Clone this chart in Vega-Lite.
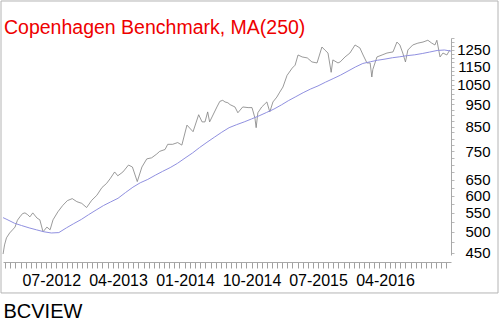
{
  "$schema": "https://vega.github.io/schema/vega-lite/v6.json",
  "autosize": {"type": "none"},
  "width": 448,
  "height": 217,
  "padding": {"left": 3, "top": 38, "right": 51, "bottom": 70},
  "background": "white",
  "config": {
    "view": {"stroke": null}
  },
  "title": {
    "text": "Copenhagen Benchmark, MA(250)",
    "anchor": "start",
    "frame": "group",
    "offset": -53.5,
    "baseline": "alphabetic",
    "dx": 1,
    "color": "#ee0000",
    "font": "Liberation Sans",
    "fontSize": 19.5,
    "fontWeight": "normal"
  },
  "datasets": {
    "price": [
      {"date": "2011-12-16", "close": 447},
      {"date": "2011-12-22", "close": 468},
      {"date": "2011-12-30", "close": 485},
      {"date": "2012-01-12", "close": 497},
      {"date": "2012-01-24", "close": 505},
      {"date": "2012-02-03", "close": 512},
      {"date": "2012-02-13", "close": 530},
      {"date": "2012-02-23", "close": 539},
      {"date": "2012-03-05", "close": 548},
      {"date": "2012-03-15", "close": 550},
      {"date": "2012-03-26", "close": 545},
      {"date": "2012-04-04", "close": 539},
      {"date": "2012-04-16", "close": 550},
      {"date": "2012-05-03", "close": 536},
      {"date": "2012-05-15", "close": 531},
      {"date": "2012-05-28", "close": 500},
      {"date": "2012-06-13", "close": 512},
      {"date": "2012-06-26", "close": 505},
      {"date": "2012-07-08", "close": 531},
      {"date": "2012-07-28", "close": 553},
      {"date": "2012-08-17", "close": 571},
      {"date": "2012-09-05", "close": 585},
      {"date": "2012-09-25", "close": 591},
      {"date": "2012-10-14", "close": 582},
      {"date": "2012-11-03", "close": 577},
      {"date": "2012-11-23", "close": 565},
      {"date": "2012-12-14", "close": 586},
      {"date": "2013-01-04", "close": 601},
      {"date": "2013-01-25", "close": 625},
      {"date": "2013-02-13", "close": 638},
      {"date": "2013-03-01", "close": 655},
      {"date": "2013-03-18", "close": 676},
      {"date": "2013-03-31", "close": 663},
      {"date": "2013-04-21", "close": 676},
      {"date": "2013-05-14", "close": 700},
      {"date": "2013-05-30", "close": 693},
      {"date": "2013-06-19", "close": 644},
      {"date": "2013-07-08", "close": 693},
      {"date": "2013-07-28", "close": 722},
      {"date": "2013-08-17", "close": 726},
      {"date": "2013-09-07", "close": 740},
      {"date": "2013-09-19", "close": 750},
      {"date": "2013-10-11", "close": 757},
      {"date": "2013-10-22", "close": 777},
      {"date": "2013-11-11", "close": 777},
      {"date": "2013-12-02", "close": 784},
      {"date": "2013-12-19", "close": 774},
      {"date": "2014-01-09", "close": 856},
      {"date": "2014-02-03", "close": 828},
      {"date": "2014-02-26", "close": 902},
      {"date": "2014-03-12", "close": 870},
      {"date": "2014-03-24", "close": 870},
      {"date": "2014-04-04", "close": 915},
      {"date": "2014-04-12", "close": 870},
      {"date": "2014-05-12", "close": 938},
      {"date": "2014-05-24", "close": 965},
      {"date": "2014-06-05", "close": 970},
      {"date": "2014-06-14", "close": 962},
      {"date": "2014-06-26", "close": 958},
      {"date": "2014-07-05", "close": 949},
      {"date": "2014-07-25", "close": 938},
      {"date": "2014-08-06", "close": 911},
      {"date": "2014-08-26", "close": 938},
      {"date": "2014-09-17", "close": 935},
      {"date": "2014-10-03", "close": 935},
      {"date": "2014-10-15", "close": 887},
      {"date": "2014-10-20", "close": 845},
      {"date": "2014-10-27", "close": 911},
      {"date": "2014-11-12", "close": 938},
      {"date": "2014-12-03", "close": 962},
      {"date": "2014-12-15", "close": 915},
      {"date": "2014-12-28", "close": 962},
      {"date": "2015-01-13", "close": 986},
      {"date": "2015-01-25", "close": 1011},
      {"date": "2015-02-07", "close": 1037},
      {"date": "2015-02-24", "close": 1100},
      {"date": "2015-03-17", "close": 1141},
      {"date": "2015-03-29", "close": 1158},
      {"date": "2015-04-10", "close": 1219},
      {"date": "2015-04-27", "close": 1207},
      {"date": "2015-05-18", "close": 1201},
      {"date": "2015-06-06", "close": 1177},
      {"date": "2015-06-27", "close": 1171},
      {"date": "2015-07-17", "close": 1269},
      {"date": "2015-07-29", "close": 1250},
      {"date": "2015-08-11", "close": 1231},
      {"date": "2015-08-24", "close": 1117},
      {"date": "2015-08-31", "close": 1189},
      {"date": "2015-09-21", "close": 1171},
      {"date": "2015-09-30", "close": 1177},
      {"date": "2015-10-20", "close": 1207},
      {"date": "2015-11-09", "close": 1231},
      {"date": "2015-11-30", "close": 1282},
      {"date": "2015-12-20", "close": 1263},
      {"date": "2016-01-02", "close": 1219},
      {"date": "2016-01-18", "close": 1171},
      {"date": "2016-01-31", "close": 1171},
      {"date": "2016-02-07", "close": 1091},
      {"date": "2016-02-11", "close": 1133},
      {"date": "2016-02-28", "close": 1207},
      {"date": "2016-03-20", "close": 1219},
      {"date": "2016-04-09", "close": 1231},
      {"date": "2016-05-04", "close": 1238},
      {"date": "2016-05-20", "close": 1301},
      {"date": "2016-06-01", "close": 1282},
      {"date": "2016-06-13", "close": 1231},
      {"date": "2016-06-24", "close": 1177},
      {"date": "2016-07-04", "close": 1250},
      {"date": "2016-07-24", "close": 1282},
      {"date": "2016-08-14", "close": 1294},
      {"date": "2016-09-04", "close": 1301},
      {"date": "2016-09-24", "close": 1313},
      {"date": "2016-10-10", "close": 1294},
      {"date": "2016-10-23", "close": 1282},
      {"date": "2016-10-31", "close": 1313},
      {"date": "2016-11-13", "close": 1207},
      {"date": "2016-11-25", "close": 1231},
      {"date": "2016-12-11", "close": 1219},
      {"date": "2016-12-23", "close": 1250}
    ],
    "ma": [
      {"date": "2011-12-16", "ma": 537},
      {"date": "2012-01-01", "ma": 532},
      {"date": "2012-02-01", "ma": 522},
      {"date": "2012-03-01", "ma": 516},
      {"date": "2012-04-01", "ma": 510},
      {"date": "2012-05-01", "ma": 505},
      {"date": "2012-06-01", "ma": 500},
      {"date": "2012-07-01", "ma": 497},
      {"date": "2012-08-01", "ma": 498},
      {"date": "2012-09-01", "ma": 510},
      {"date": "2012-10-01", "ma": 521},
      {"date": "2012-11-01", "ma": 532},
      {"date": "2012-12-01", "ma": 545},
      {"date": "2013-01-01", "ma": 558},
      {"date": "2013-02-01", "ma": 571},
      {"date": "2013-03-01", "ma": 581},
      {"date": "2013-04-01", "ma": 592},
      {"date": "2013-05-01", "ma": 609},
      {"date": "2013-06-01", "ma": 626},
      {"date": "2013-07-01", "ma": 640},
      {"date": "2013-08-01", "ma": 651},
      {"date": "2013-09-01", "ma": 665},
      {"date": "2013-10-01", "ma": 678},
      {"date": "2013-11-01", "ma": 691},
      {"date": "2013-12-01", "ma": 706},
      {"date": "2014-01-01", "ma": 725},
      {"date": "2014-02-01", "ma": 744},
      {"date": "2014-03-01", "ma": 764},
      {"date": "2014-04-01", "ma": 785},
      {"date": "2014-05-01", "ma": 805},
      {"date": "2014-06-01", "ma": 826},
      {"date": "2014-07-01", "ma": 845},
      {"date": "2014-08-01", "ma": 858},
      {"date": "2014-09-01", "ma": 870},
      {"date": "2014-10-01", "ma": 883},
      {"date": "2014-11-01", "ma": 897},
      {"date": "2014-12-01", "ma": 912},
      {"date": "2015-01-01", "ma": 928},
      {"date": "2015-02-01", "ma": 948},
      {"date": "2015-03-01", "ma": 968},
      {"date": "2015-04-01", "ma": 988},
      {"date": "2015-05-01", "ma": 1008},
      {"date": "2015-06-01", "ma": 1027},
      {"date": "2015-07-01", "ma": 1043},
      {"date": "2015-08-01", "ma": 1063},
      {"date": "2015-09-01", "ma": 1082},
      {"date": "2015-10-01", "ma": 1101},
      {"date": "2015-11-01", "ma": 1124},
      {"date": "2015-12-01", "ma": 1147},
      {"date": "2016-01-01", "ma": 1168},
      {"date": "2016-02-01", "ma": 1178},
      {"date": "2016-03-01", "ma": 1187},
      {"date": "2016-04-01", "ma": 1194},
      {"date": "2016-05-01", "ma": 1202},
      {"date": "2016-06-01", "ma": 1208},
      {"date": "2016-07-01", "ma": 1215},
      {"date": "2016-08-01", "ma": 1220},
      {"date": "2016-09-01", "ma": 1228},
      {"date": "2016-10-01", "ma": 1237},
      {"date": "2016-11-01", "ma": 1247},
      {"date": "2016-12-01", "ma": 1250},
      {"date": "2016-12-28", "ma": 1243}
    ]
  },
  "layer": [
    {
      "data": {"name": "price"},
      "mark": {"type": "line", "color": "#808080", "strokeWidth": 0.8},
      "encoding": {
        "x": {
          "field": "date",
          "type": "temporal",
          "scale": {
            "domain": [{"year": 2011, "month": 12, "date": 15, "hours": 17}, {"year": 2016, "month": 12, "date": 28}],
            "nice": false
          },
          "axis": {
            "orient": "bottom",
            "offset": 7,
            "domainColor": "#a8a8a8",
            "grid": false,
            "tickCount": 1000,
            "tickSize": 6,
            "tickColor": "#a0a0a0",
            "labelPadding": 4,
            "labelFont": "Liberation Sans",
            "labelFontSize": 16,
            "labelColor": "#000000",
            "labelOverlap": false,
            "labelSeparation": -1000,
            "labelExpr": "date(datum.value) == 1 ? timeFormat(datum.value, '%m-%Y') : ''",
            "values": [
              {"year": 2011, "month": 12, "date": 25},
              {"year": 2012, "month": 1, "date": 15},
              {"year": 2012, "month": 2, "date": 5},
              {"year": 2012, "month": 2, "date": 26},
              {"year": 2012, "month": 3, "date": 18},
              {"year": 2012, "month": 4, "date": 8},
              {"year": 2012, "month": 4, "date": 29},
              {"year": 2012, "month": 5, "date": 20},
              {"year": 2012, "month": 6, "date": 10},
              {"year": 2012, "month": 7, "date": 1},
              {"year": 2012, "month": 7, "date": 22},
              {"year": 2012, "month": 8, "date": 12},
              {"year": 2012, "month": 9, "date": 2},
              {"year": 2012, "month": 9, "date": 23},
              {"year": 2012, "month": 10, "date": 14},
              {"year": 2012, "month": 11, "date": 4},
              {"year": 2012, "month": 11, "date": 25},
              {"year": 2012, "month": 12, "date": 16},
              {"year": 2013, "month": 1, "date": 6},
              {"year": 2013, "month": 1, "date": 27},
              {"year": 2013, "month": 2, "date": 17},
              {"year": 2013, "month": 3, "date": 10},
              {"year": 2013, "month": 4, "date": 1},
              {"year": 2013, "month": 4, "date": 22},
              {"year": 2013, "month": 5, "date": 13},
              {"year": 2013, "month": 6, "date": 3},
              {"year": 2013, "month": 6, "date": 24},
              {"year": 2013, "month": 7, "date": 15},
              {"year": 2013, "month": 8, "date": 5},
              {"year": 2013, "month": 8, "date": 26},
              {"year": 2013, "month": 9, "date": 16},
              {"year": 2013, "month": 10, "date": 7},
              {"year": 2013, "month": 10, "date": 28},
              {"year": 2013, "month": 11, "date": 18},
              {"year": 2013, "month": 12, "date": 9},
              {"year": 2014, "month": 1, "date": 1},
              {"year": 2014, "month": 1, "date": 22},
              {"year": 2014, "month": 2, "date": 12},
              {"year": 2014, "month": 3, "date": 5},
              {"year": 2014, "month": 3, "date": 26},
              {"year": 2014, "month": 4, "date": 16},
              {"year": 2014, "month": 5, "date": 7},
              {"year": 2014, "month": 5, "date": 28},
              {"year": 2014, "month": 6, "date": 18},
              {"year": 2014, "month": 7, "date": 9},
              {"year": 2014, "month": 7, "date": 30},
              {"year": 2014, "month": 8, "date": 20},
              {"year": 2014, "month": 9, "date": 10},
              {"year": 2014, "month": 10, "date": 1},
              {"year": 2014, "month": 10, "date": 22},
              {"year": 2014, "month": 11, "date": 12},
              {"year": 2014, "month": 12, "date": 3},
              {"year": 2014, "month": 12, "date": 24},
              {"year": 2015, "month": 1, "date": 14},
              {"year": 2015, "month": 2, "date": 4},
              {"year": 2015, "month": 2, "date": 25},
              {"year": 2015, "month": 3, "date": 18},
              {"year": 2015, "month": 4, "date": 8},
              {"year": 2015, "month": 4, "date": 29},
              {"year": 2015, "month": 5, "date": 20},
              {"year": 2015, "month": 6, "date": 10},
              {"year": 2015, "month": 7, "date": 1},
              {"year": 2015, "month": 7, "date": 22},
              {"year": 2015, "month": 8, "date": 12},
              {"year": 2015, "month": 9, "date": 2},
              {"year": 2015, "month": 9, "date": 23},
              {"year": 2015, "month": 10, "date": 14},
              {"year": 2015, "month": 11, "date": 4},
              {"year": 2015, "month": 11, "date": 25},
              {"year": 2015, "month": 12, "date": 16},
              {"year": 2016, "month": 1, "date": 6},
              {"year": 2016, "month": 1, "date": 27},
              {"year": 2016, "month": 2, "date": 17},
              {"year": 2016, "month": 3, "date": 9},
              {"year": 2016, "month": 4, "date": 1},
              {"year": 2016, "month": 4, "date": 22},
              {"year": 2016, "month": 5, "date": 13},
              {"year": 2016, "month": 6, "date": 3},
              {"year": 2016, "month": 6, "date": 24},
              {"year": 2016, "month": 7, "date": 15},
              {"year": 2016, "month": 8, "date": 5},
              {"year": 2016, "month": 8, "date": 26},
              {"year": 2016, "month": 9, "date": 16},
              {"year": 2016, "month": 10, "date": 7},
              {"year": 2016, "month": 10, "date": 28},
              {"year": 2016, "month": 11, "date": 18},
              {"year": 2016, "month": 12, "date": 9}
            ],
            "title": "BCVIEW",
            "titleX": 0,
            "titleY": 55,
            "titleAlign": "left",
            "titleAnchor": "start",
            "titleBaseline": "alphabetic",
            "titleFont": "Liberation Sans",
            "titleFontSize": 20,
            "titleFontWeight": "normal",
            "titleColor": "#000000"
          }
        },
        "y": {
          "field": "close",
          "type": "quantitative",
          "scale": {"type": "log", "domain": [444.8, 1327.9], "nice": false, "zero": false},
          "axis": {
            "orient": "right",
            "domainColor": "#a8a8a8",
            "grid": false,
            "title": null,
            "tickCount": 1000,
            "tickSize": 3,
            "tickColor": "#b8b8b8",
            "labelAlign": "right",
            "labelPadding": 36,
            "labelFont": "Liberation Sans",
            "labelFontSize": 15,
            "labelColor": "#000000",
            "labelOverlap": false,
            "labelSeparation": -1000,
            "values": [450, 475, 500, 525, 550, 575, 600, 625, 650, 675, 700, 725, 750, 775, 800, 825, 850, 875, 900, 925, 950, 975, 1000, 1025, 1050, 1075, 1100, 1125, 1150, 1175, 1200, 1225, 1250, 1275, 1300, 1325],
            "labelExpr": "indexof([450, 500, 550, 600, 650, 750, 850, 950, 1050, 1150, 1250], datum.value) >= 0 ? format(datum.value, 'd') : ''"
          }
        }
      }
    },
    {
      "data": {"name": "ma"},
      "mark": {"type": "line", "color": "#9090e0", "strokeWidth": 1},
      "encoding": {
        "x": {"field": "date", "type": "temporal"},
        "y": {"field": "ma", "type": "quantitative"}
      }
    },
    {
      "data": {"values": [{}]},
      "mark": {"type": "rect", "fill": "transparent", "stroke": "#b4b4b4", "strokeWidth": 1, "clip": false},
      "encoding": {
        "x": {"datum": {"year": 2011, "month": 12, "date": 7, "hours": 12}, "type": "temporal"},
        "x2": {"datum": {"year": 2017, "month": 7, "date": 9}},
        "y": {"datum": 1600.2, "type": "quantitative"},
        "y2": {"datum": 367.3}
      }
    }
  ]
}
